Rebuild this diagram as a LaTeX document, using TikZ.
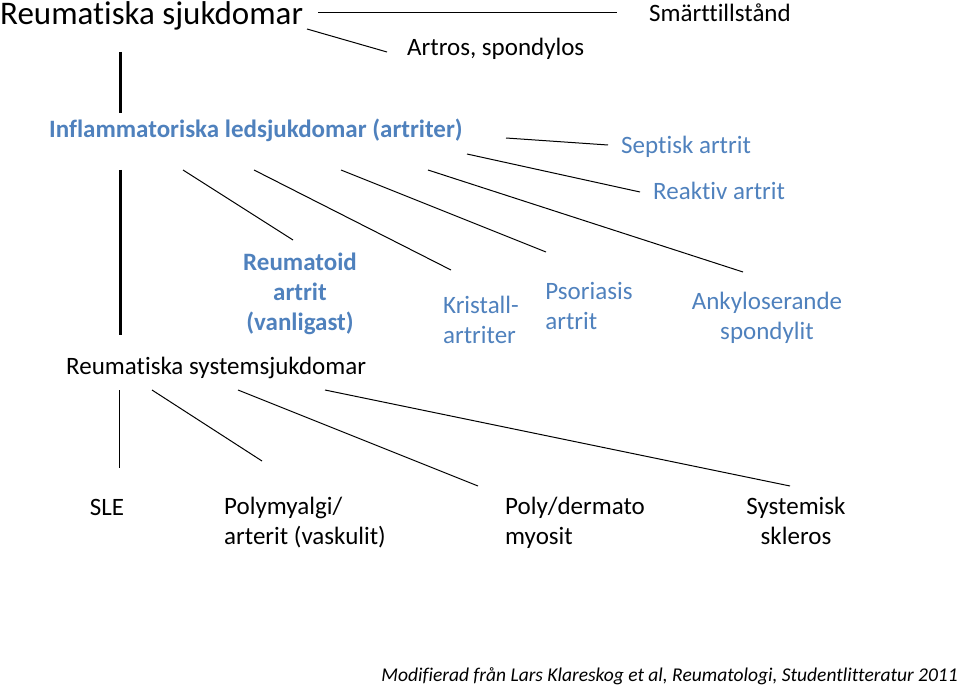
\documentclass[tikz,border=0pt]{standalone}
\usepackage{fontspec}
\setmainfont{Carlito}[Ligatures=NoCommon]
\definecolor{groupblue}{HTML}{4F81BD}

\begin{document}
\begin{tikzpicture}[
    x=1pt, y=-1pt,
    every node/.style={
        inner sep=0pt,
        font=\fontsize{25}{30}\selectfont
    },
    bluetext/.style={text=groupblue},
    bluehead/.style={text=groupblue, font=\fontsize{25}{30}\selectfont\bfseries},
    link/.style={line width=1pt},
    trunk/.style={line width=3pt}
]
\useasboundingbox (0,0) rectangle (960,687);

% Title
\node[anchor=base west, font=\fontsize{33}{38}\selectfont] (main) at (0,25)
{Reumatiska sjukdomar};
\node[anchor=base west] (pain) at (649,22) {Smärttillstånd};
\node[anchor=base west] (artros) at (407,56) {Artros, spondylos};

% Inflammatory joint diseases
\node[bluehead, anchor=base west] (infl) at (49,138)
{Inflammatoriska ledsjukdomar (artriter)};
\node[bluetext, anchor=base west] (septic) at (621,154) {Septisk artrit};
\node[bluetext, anchor=base west] (reactive) at (653,199) {Reaktiv artrit};

\node[bluehead, align=center] (ra) at (300,294)
{Reumatoid\\artrit\\(vanligast)};
\node[bluetext, align=left] (crystal) at (481,320)
{Kristall-\\artriter};
\node[bluetext, align=left] (psoriasis) at (589,306)
{Psoriasis\\artrit};
\node[bluetext, align=center] (as) at (767,318)
{Ankyloserande\\spondylit};

% Systemic diseases
\node[anchor=base west] (syst) at (66,374) {Reumatiska systemsjukdomar};

\node (sle) at (107,507) {SLE};
\node[align=left, anchor=north west] (pmr) at (224,497)
{Polymyalgi/\\arterit (vaskulit)};
\node[align=left, anchor=north west] (myosit) at (505,497)
{Poly/dermato\\myosit};
\node[align=center, anchor=north] (ssc) at (796,497)
{Systemisk\\skleros};

% Source
\node[anchor=base east, font=\fontsize{19.5}{23}\selectfont\itshape] (source) at (958,681)
{Modifierad från Lars Klareskog et al, Reumatologi, Studentlitteratur 2011};

% Connection points
\coordinate (main_r) at (318,13);
\coordinate (pain_l) at (617,13);
\coordinate (main_d) at (307,29);
\coordinate (artros_l) at (387,52);
\coordinate (trunk_a) at (120,52);
\coordinate (trunk_b) at (120,113);
\coordinate (trunk_c) at (120,170);
\coordinate (trunk_d) at (120,335);
\coordinate (septic_r) at (506,138);
\coordinate (septic_l) at (608,145);
\coordinate (reactive_r) at (467,154);
\coordinate (reactive_l) at (640,192);
\coordinate (ra_up) at (183,170);
\coordinate (ra_dn) at (293,240);
\coordinate (crystal_up) at (254,170);
\coordinate (crystal_dn) at (451,270);
\coordinate (psoriasis_up) at (341,170);
\coordinate (psoriasis_dn) at (546,252);
\coordinate (as_up) at (428,170);
\coordinate (as_dn) at (743,272);
\coordinate (sle_up) at (119,390);
\coordinate (sle_dn) at (119,468);
\coordinate (pmr_up) at (152,390);
\coordinate (pmr_dn) at (262,461);
\coordinate (myosit_up) at (238,390);
\coordinate (myosit_dn) at (478,486);
\coordinate (ssc_up) at (325,390);
\coordinate (ssc_dn) at (790,486);

% Connections
\draw[link] (main_r) -- (pain_l);
\draw[link] (main_d) -- (artros_l);
\draw[trunk] (trunk_a) -- (trunk_b);
\draw[trunk] (trunk_c) -- (trunk_d);

\draw[link] (septic_r) -- (septic_l);
\draw[link] (reactive_r) -- (reactive_l);
\draw[link] (ra_up) -- (ra_dn);
\draw[link] (crystal_up) -- (crystal_dn);
\draw[link] (psoriasis_up) -- (psoriasis_dn);
\draw[link] (as_up) -- (as_dn);

\draw[link] (sle_up) -- (sle_dn);
\draw[link] (pmr_up) -- (pmr_dn);
\draw[link] (myosit_up) -- (myosit_dn);
\draw[link] (ssc_up) -- (ssc_dn);

\end{tikzpicture}
\end{document}
